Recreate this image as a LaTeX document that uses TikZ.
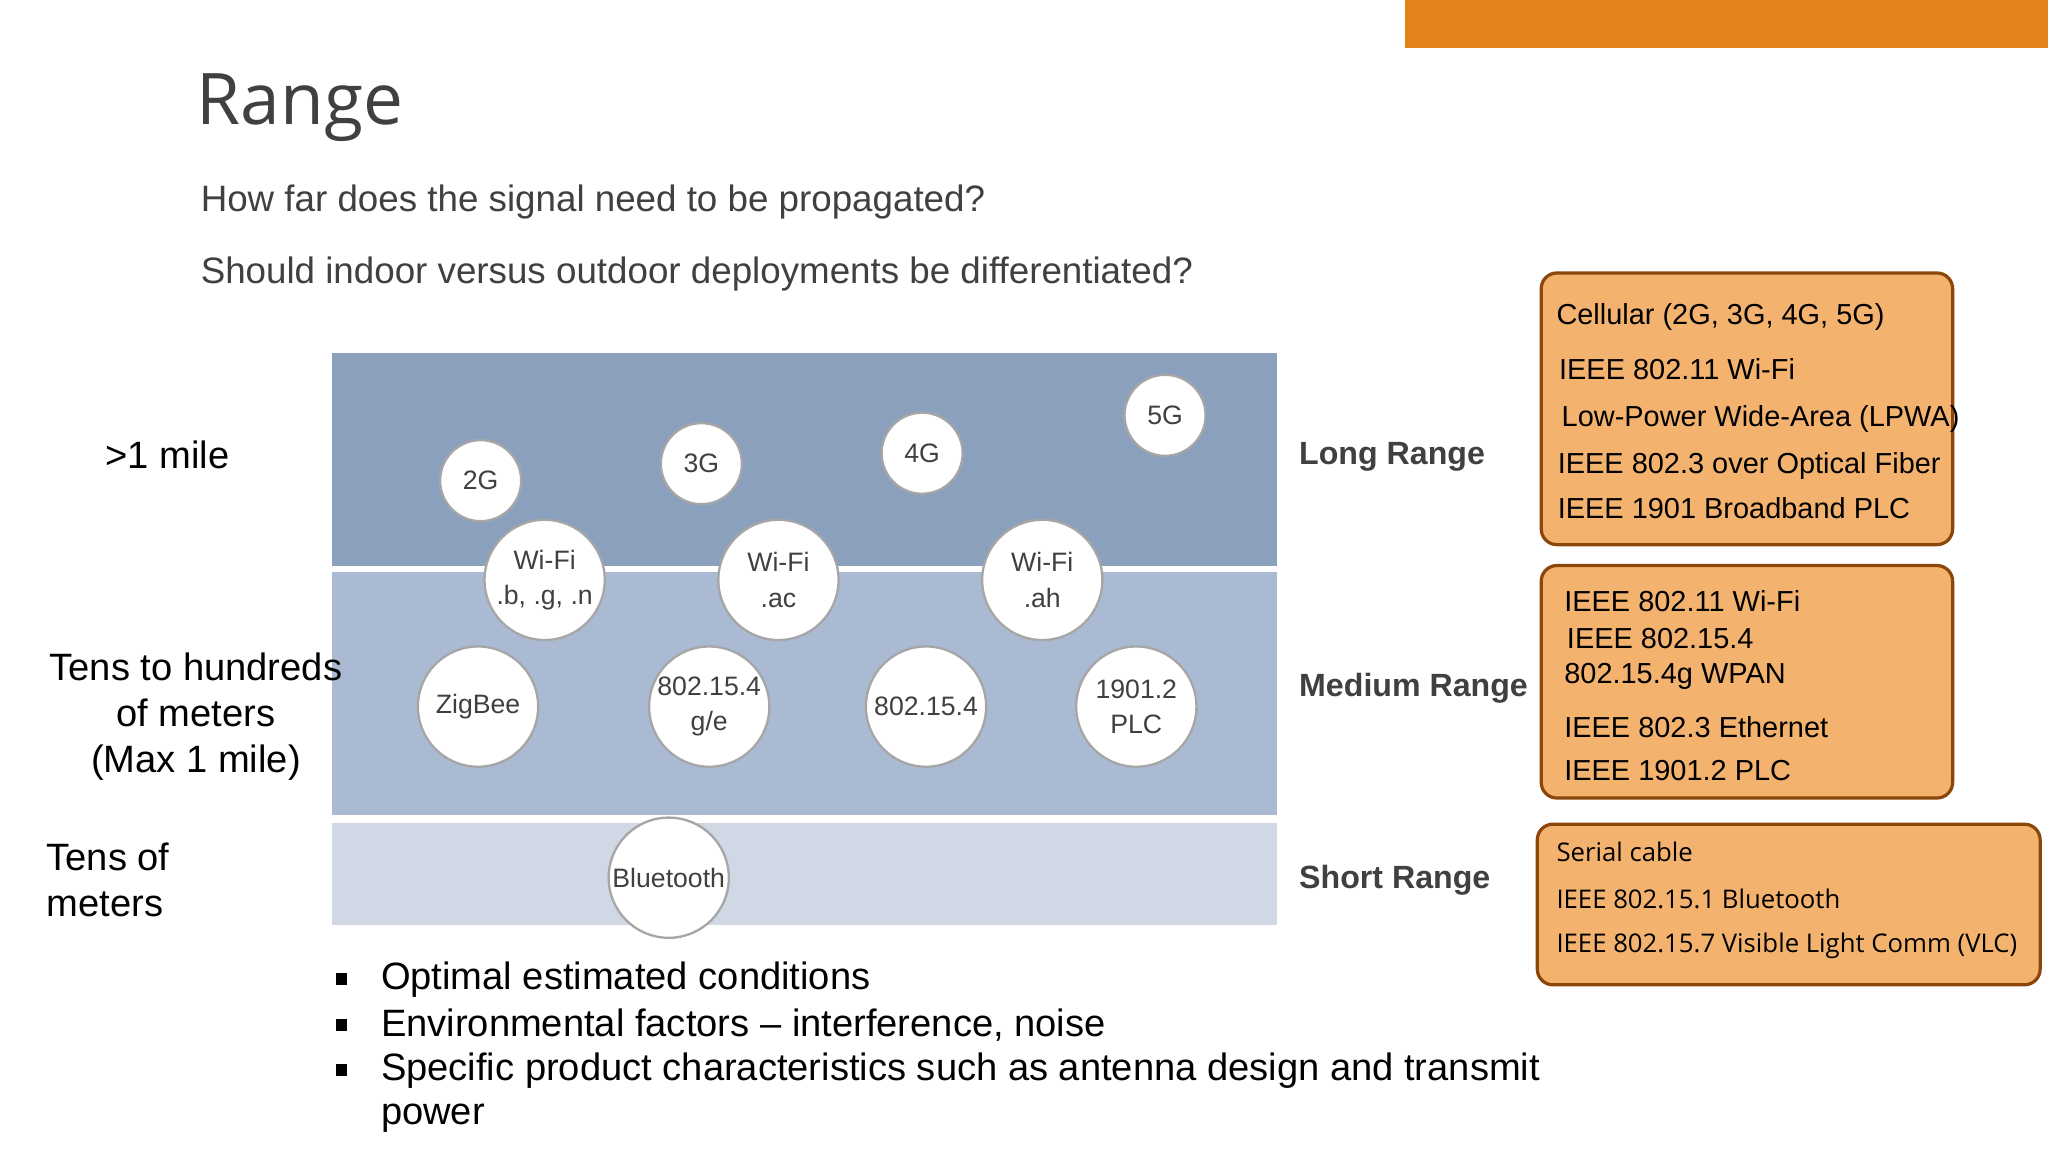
\documentclass[tikz,border=0pt]{standalone}
\usepackage{fontspec}
\setmainfont{Liberation Sans}
\newfontfamily\opensans{Open Sans}
\begin{document}
\begin{tikzpicture}[x=0.01cm,y=-0.01cm,
  bub/.style={circle,draw=gray!70,line width=0.5pt,fill=white,inner sep=0pt,font=\fontsize{5.8}{7.7}\selectfont,text=black!75,align=center},
  sbub/.style={bub,minimum size=0.62cm},
  lbub/.style={bub,minimum size=0.92cm},
  rng/.style={anchor=west,inner sep=0,font=\fontsize{7}{8}\selectfont\bfseries,text=black!75},
  obox/.style={draw={rgb,255:red,140;green,70;blue,10},line width=0.7pt,fill={rgb,255:red,243;green,178;blue,110},rounded corners=0.12cm},
  otxt/.style={anchor=west,inner sep=0,font=\fontsize{6.3}{7}\selectfont,text=black},
  lbl/.style={inner sep=0,font=\fontsize{8.3}{10}\selectfont,text=black},
  bul/.style={anchor=west,inner sep=0,font=\fontsize{8.3}{10}\selectfont,text=black}]
\useasboundingbox (0,0) rectangle (1568,882);
\fill[white] (0,0) rectangle (1568,882);
\fill[fill={rgb,255:red,229;green,130;blue,26}] (1076,0) rectangle (1568,37);
\node[anchor=base west,inner sep=0,font=\opensans\fontsize{15.5}{18}\selectfont,text=black!75] (title) at (150,95) {Range};
\node[anchor=base west,inner sep=0,font=\fontsize{8}{10}\selectfont,text=black!75] (q1) at (153,162) {How far does the signal need to be propagated?};
\node[anchor=base west,inner sep=0,font=\fontsize{8}{10}\selectfont,text=black!75] (q2) at (153,217) {Should indoor versus outdoor deployments be differentiated?};
% bands
\fill[fill={rgb,255:red,138;green,160;blue,189}] (254,270) rectangle (978,433);
\fill[fill={rgb,255:red,169;green,186;blue,210}] (254,438) rectangle (978,624);
\fill[fill={rgb,255:red,207;green,216;blue,228}] (254,630) rectangle (978,708);
% bubbles
\node[sbub] (g2) at (368,368) {2G};
\node[sbub] (g3) at (537,355) {3G};
\node[sbub] (g4) at (706,347) {4G};
\node[sbub] (g5) at (892,318) {5G};
\node[lbub] (wbgn) at (417,444) {Wi-Fi\\.b, .g, .n};
\node[lbub] (wac) at (596,444) {Wi-Fi\\.ac};
\node[lbub] (wah) at (798,444) {Wi-Fi\\.ah};
\node[lbub] (zig) at (366,541) {ZigBee};
\node[lbub] (ge) at (543,541) {802.15.4\\g/e};
\node[lbub] (p154) at (709,541) {802.15.4};
\node[lbub] (plc) at (870,541) {1901.2\\PLC};
\node[lbub] (bt) at (512,672) {Bluetooth};
% range labels
\node[rng] (lr) at (994,350) {Long Range};
\node[rng] (mr) at (994,527) {Medium Range};
\node[rng] (sr) at (994,674) {Short Range};
% left labels
\node[lbl,anchor=west] (m1) at (80,348) {>1 mile};
\node[lbl,align=center] (m2) at (150,549) {Tens to hundreds\\of meters\\(Max 1 mile)};
\node[lbl,align=left,anchor=west] (m3) at (35,674) {Tens of\\meters};
% orange boxes
\draw[obox] (1180,209) rectangle (1495,417);
\node[otxt] at (1191,243) {Cellular (2G, 3G, 4G, 5G)};
\node[otxt] at (1193,283) {IEEE 802.11 Wi-Fi};
\node[otxt] at (1195,321) {Low-Power Wide-Area (LPWA)};
\node[otxt] at (1192,357) {IEEE 802.3 over Optical Fiber};
\node[otxt] at (1192,389) {IEEE 1901 Broadband PLC};
\draw[obox] (1180,433) rectangle (1495,611);
\node[otxt] at (1197,460) {IEEE 802.11 Wi-Fi};
\node[otxt] at (1199,489) {IEEE 802.15.4};
\node[otxt] at (1197,518) {802.15.4g WPAN};
\node[otxt] at (1197,557) {IEEE 802.3 Ethernet};
\node[otxt] at (1197,590) {IEEE 1901.2 PLC};
\draw[obox] (1177,631) rectangle (1562,754);
\node[otxt,font=\opensans\fontsize{5.6}{7}\selectfont] at (1191,652) {Serial cable};
\node[otxt,font=\opensans\fontsize{5.6}{7}\selectfont] at (1191,688) {IEEE 802.15.1 Bluetooth};
\node[otxt,font=\opensans\fontsize{5.6}{7}\selectfont] at (1191,724) {IEEE 802.15.7 Visible Light Comm (VLC)};
% bullets
\foreach \yy in {750,785,820}{\fill[black] (257,\yy-5) rectangle (266,\yy+4);}
\node[bul] at (291,750) {Optimal estimated conditions};
\node[bul] at (291,785) {Environmental factors -- interference, noise};
\node[bul] at (291,820) {Specific product characteristics such as antenna design and transmit};
\node[bul] at (291,856) {power};
\end{tikzpicture}
\end{document}
